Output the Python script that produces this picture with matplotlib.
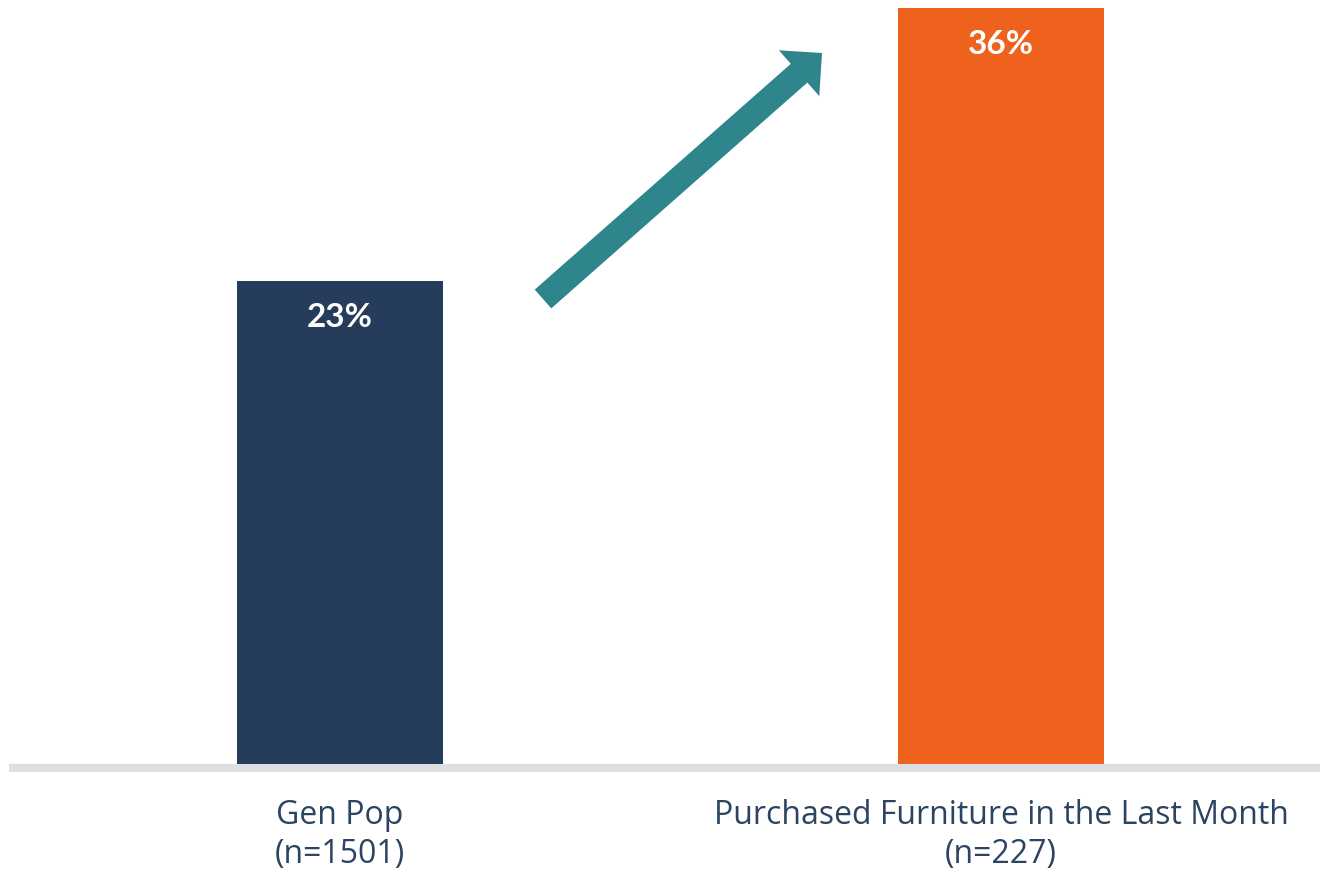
import matplotlib.pyplot as plt
from matplotlib.patches import FancyArrowPatch

# survey share by group
groups = ['Gen Pop\n(n=1501)', 'Purchased Furniture in the Last Month\n(n=227)']
values = [23, 36]
bar_colors = ['#253D5A', '#EF621E']

navy = '#2B4461'
plt.rcParams['font.family'] = ['Lato', 'DejaVu Sans']

fig = plt.figure(figsize=(13.2, 8.7), dpi=100)
# axes placed so that 0 sits on the grey baseline
ax = fig.add_axes([9 / 1320, 97 / 870, 1311 / 1320, 764.4 / 870])

x = [0, 1]
bars = ax.bar(x, values, width=0.312, color=bar_colors, zorder=2)
ax.axhspan(-0.38, 0, color='#DDE0E3', zorder=1)
ax.set_xlim(-0.5008, 1.4826)
ax.set_ylim(-0.38, 36)

for b, v in zip(bars, values):
    ax.text(b.get_x() + b.get_width() / 2, v - 1.7, f'{v}%',
            ha='center', va='center', color='white',
            fontsize=24, fontweight='bold')

ax.set_xticks(x)
ax.set_xticklabels(groups, fontsize=23, color=navy, linespacing=1.22,
                   family=['Open Sans', 'DejaVu Sans'])
ax.tick_params(axis='x', length=0, pad=19)
ax.set_yticks([])
for s in ax.spines.values():
    s.set_visible(False)

# rising arrow between the bars
arrow = FancyArrowPatch((543 / 1320, 1 - 300 / 870), (822 / 1320, 1 - 54 / 870),
                        transform=fig.transFigure,
                        arrowstyle='simple,head_length=2.2,head_width=4.4,tail_width=1.8',
                        mutation_scale=10, shrinkA=0, shrinkB=0,
                        color='#2E858C', lw=0)
fig.patches.append(arrow)

fig.savefig('out.png', dpi=100)
